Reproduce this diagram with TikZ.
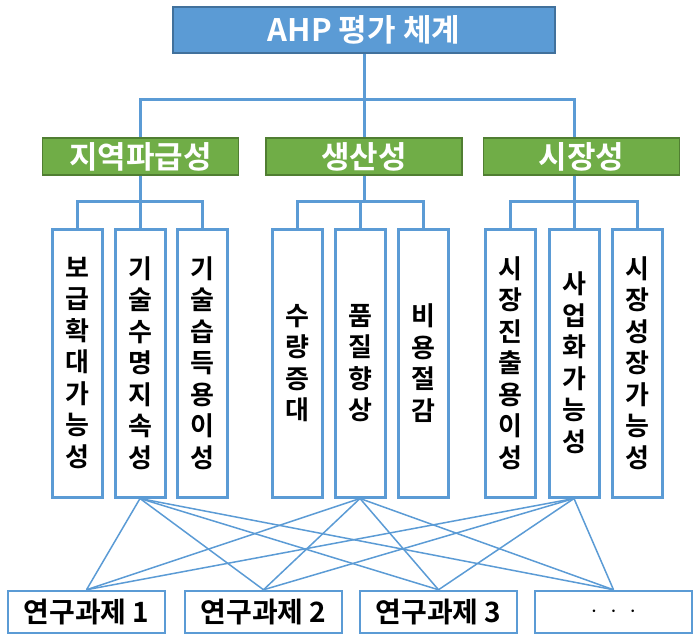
\documentclass[tikz,border=0pt]{standalone}
\usepackage{fontspec}
\setmainfont{Noto Sans CJK KR}[BoldFont={Noto Sans CJK KR Bold}]
\usepackage{tikz}
\usetikzlibrary{positioning}
\usepackage{xcolor}
\definecolor{ahpblue}{HTML}{5B9BD5}
\definecolor{ahpedge}{HTML}{41719C}
\definecolor{grpgreen}{HTML}{70AD47}
\definecolor{grpedge}{HTML}{507E32}
\tikzset{
  topbox/.style ={draw=ahpedge, fill=ahpblue, line width=1.5pt,
                  minimum width=382pt, minimum height=46pt, inner sep=0pt,
                  text=white, font=\fontsize{31}{34}\selectfont\bfseries},
  grpbox/.style ={draw=grpedge, fill=grpgreen, line width=1.2pt,
                  minimum width=196pt, minimum height=37pt, inner sep=0pt,
                  text=white, font=\fontsize{31}{34}\selectfont\bfseries},
  critbox/.style={draw=ahpblue, fill=white, line width=3pt,
                  minimum width=50pt, minimum height=268pt, inner sep=0pt,
                  align=center, font=\fontsize{26}{31.5}\selectfont\bfseries},
  projbox/.style={draw=ahpblue, fill=white, line width=2.5pt,
                  minimum width=157pt, minimum height=42pt, inner sep=0pt,
                  font=\fontsize{28}{30}\selectfont\bfseries},
  tree/.style   ={draw=ahpblue, line width=3pt},
  link/.style   ={draw=ahpblue, line width=1.5pt},
}
\begin{document}
\begin{tikzpicture}[x=1pt,y=-1pt]
  \useasboundingbox (0,0) rectangle (698,640);
  % ---- top: goal and the three groups
  \node[topbox] (ahp) at (364,30) {AHP 평가 체계};
  \node[grpbox] (g1) at (140.5,156.5) {지역파급성};
  \node[grpbox] (g2) at (364,156.5)   {생산성};
  \node[grpbox] (g3) at (581.5,156.5) {시장성};
  % ---- criteria, written top to bottom
  \node[critbox] (c1) at (77,363)  {보\\급\\확\\대\\가\\능\\성};
  \node[critbox] (c2) at (140,363) {기\\술\\수\\명\\지\\속\\성};
  \node[critbox] (c3) at (202,363) {기\\술\\습\\득\\용\\이\\성};
  \node[critbox] (c4) at (297,363) {수\\량\\증\\대};
  \node[critbox] (c5) at (360,363) {품\\질\\향\\상};
  \node[critbox] (c6) at (423,363) {비\\용\\절\\감};
  \node[critbox] (c7) at (510,363) {시\\장\\진\\출\\용\\이\\성};
  \node[critbox] (c8) at (574,363) {사\\업\\화\\가\\능\\성};
  \node[critbox] (c9) at (637,363) {시\\장\\성\\장\\가\\능\\성};
  % ---- research projects
  \node[projbox] (p1) at (86.5,612)  {연구과제 1};
  \node[projbox] (p2) at (263.5,612) {연구과제 2};
  \node[projbox] (p3) at (438.5,612) {연구과제 3};
  \node[projbox] (p4) at (613.5,612) {$\cdot\;\cdot\;\cdot$};
  % ---- tree lines
  \coordinate (top) at (364,99);
  \draw[tree] (ahp.south) -- (top);
  \draw[tree] (top) -| (g1.north -| c2);
  \draw[tree] (top) -| (g3.north -| c8);
  \draw[tree] (top) -- (g2.north);
  \coordinate (j1) at (140,201);
  \coordinate (j2) at (364,201);
  \coordinate (j3) at (574,201);
  \draw[tree] (g1.south -| c2) -- (j1);
  \draw[tree] (g2.south) -- (j2);
  \draw[tree] (g3.south -| c8) -- (j3);
  \draw[tree] (c1.north) |- (j1) -| (c3.north);
  \draw[tree] (j1) -- (c2.north);
  \draw[tree] (c4.north) |- (j2) -| (c6.north);
  \draw[tree] (j2 -| c5) -- (c5.north);
  \draw[tree] (c7.north) |- (j3) -| (c9.north);
  \draw[tree] (j3) -- (c8.north);
  % ---- every project against the three middle criteria
  \foreach \c in {c2,c5,c8}
    \foreach \p in {p1,p2,p3,p4}
      \draw[link] (\c.south) -- (\p.north);
\end{tikzpicture}
\end{document}
